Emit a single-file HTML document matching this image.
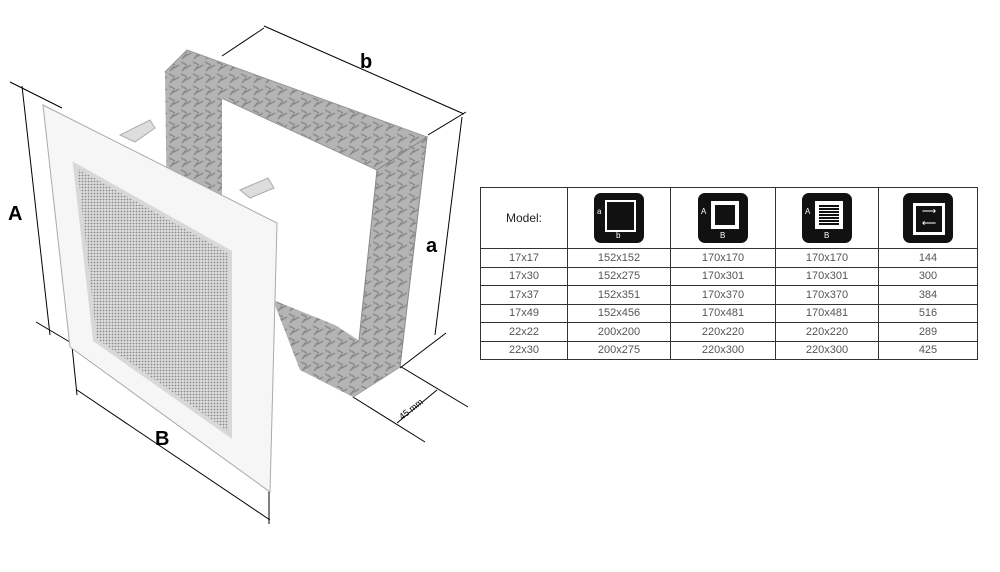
<!DOCTYPE html><html><head><style>
body{margin:0;width:1000px;height:572px;background:#fff;overflow:hidden;font-family:"Liberation Sans",sans-serif;position:relative}
table{position:absolute;left:480px;top:187px;border-collapse:collapse;font-size:11px;color:#555}
td{border:1px solid #333;text-align:center;height:17.5px;padding:0}
.ic{display:inline-block;width:50px;height:50px;background:#111;border-radius:7px;position:relative;vertical-align:middle}
</style></head><body>
<svg width="480" height="572" style="position:absolute;left:0;top:0">
<defs><pattern id="m" width="3" height="3" patternUnits="userSpaceOnUse"><rect width="3" height="3" fill="#ddd"/><circle cx="1.5" cy="1.5" r="0.9" fill="#888"/></pattern>
<pattern id="g" width="12" height="12" patternUnits="userSpaceOnUse"><rect width="12" height="12" fill="#b4b4b4"/><path d="M1 2l6 3M4 9l7-4M2 11l4-5" stroke="#8a8a8a" stroke-width="1.5"/></pattern></defs>
<g stroke="#000" stroke-width="1" fill="none">
<line x1="10" y1="82" x2="62" y2="108"/><line x1="22" y1="86" x2="50" y2="335"/><line x1="36" y1="322" x2="80" y2="348"/>
<line x1="72" y1="346" x2="77" y2="395"/><line x1="77" y1="390" x2="270" y2="520"/><line x1="269" y1="460" x2="269" y2="524"/>
<line x1="222" y1="56" x2="264" y2="28"/><line x1="264" y1="26" x2="464" y2="114"/><line x1="428" y1="135" x2="466" y2="112"/>
<line x1="462" y1="117" x2="435" y2="335"/><line x1="400" y1="368" x2="446" y2="333"/>
<line x1="353" y1="397" x2="425" y2="442"/><line x1="398" y1="365" x2="468" y2="407"/><line x1="397" y1="423" x2="437" y2="390"/>
</g>
<polygon points="187,50 427,137 377,170 165,72" fill="url(#g)" stroke="#999"/>
<polygon points="165,72 222,94 222,300 168,290" fill="url(#g)"/>
<polygon points="377,170 427,137 400,367 353,397" fill="url(#g)" stroke="#888"/>
<polygon points="273,300 335,325 400,367 353,397 300,370" fill="url(#g)"/>
<polygon points="170,220 230,245 230,295 175,285" fill="url(#m)"/>
<polygon points="120,135 150,120 155,128 135,142" fill="#ddd" stroke="#aaa"/>
<polygon points="240,190 268,178 274,188 250,198" fill="#ddd" stroke="#aaa"/>
<polygon points="43,105 277,223 270,492 70,347" fill="#f6f6f6" stroke="#aaa"/>
<polygon points="75,165 230,252 230,435 95,340" fill="url(#m)" stroke="#d8d8d8" stroke-width="4"/>
<text x="8" y="220" font-size="20" font-weight="bold">A</text>
<text x="155" y="445" font-size="20" font-weight="bold">B</text>
<text x="360" y="68" font-size="20" font-weight="bold">b</text>
<text x="426" y="252" font-size="20" font-weight="bold">a</text>
<text x="0" y="0" font-size="9" transform="translate(402,420) rotate(-38)">45 mm</text>
</svg>
<table>
<tr style="height:61px"><td style="width:86px;font-size:12px;color:#222">Model:</td>
<td style="width:102px"><span class="ic"><span style="position:absolute;left:11px;top:7px;width:27px;height:28px;border:2px solid #fff"></span><span style="position:absolute;left:3px;top:14px;color:#fff;font-size:8px">a</span><span style="position:absolute;left:22px;top:38px;color:#fff;font-size:8px">b</span></span></td>
<td style="width:104px"><span class="ic"><span style="position:absolute;left:13px;top:8px;width:20px;height:20px;border:4px solid #fff"></span><span style="position:absolute;left:3px;top:14px;color:#fff;font-size:8px">A</span><span style="position:absolute;left:22px;top:38px;color:#fff;font-size:8px">B</span></span></td>
<td style="width:102px"><span class="ic"><span style="position:absolute;left:13px;top:8px;width:20px;height:20px;border:4px solid #fff;background:repeating-linear-gradient(#111 0 2px,#fff 2px 3px)"></span><span style="position:absolute;left:3px;top:14px;color:#fff;font-size:8px">A</span><span style="position:absolute;left:22px;top:38px;color:#fff;font-size:8px">B</span></span></td>
<td style="width:98px"><span class="ic"><span style="position:absolute;left:10px;top:10px;width:26px;height:26px;border:3px solid #fff;color:#fff;font-size:10px;line-height:12px">⟶<br>⟵</span></span></td></tr>
<tr><td>17x17</td><td>152x152</td><td>170x170</td><td>170x170</td><td>144</td></tr>
<tr><td>17x30</td><td>152x275</td><td>170x301</td><td>170x301</td><td>300</td></tr>
<tr><td>17x37</td><td>152x351</td><td>170x370</td><td>170x370</td><td>384</td></tr>
<tr><td>17x49</td><td>152x456</td><td>170x481</td><td>170x481</td><td>516</td></tr>
<tr><td>22x22</td><td>200x200</td><td>220x220</td><td>220x220</td><td>289</td></tr>
<tr><td>22x30</td><td>200x275</td><td>220x300</td><td>220x300</td><td>425</td></tr>
</table>
</body></html>
